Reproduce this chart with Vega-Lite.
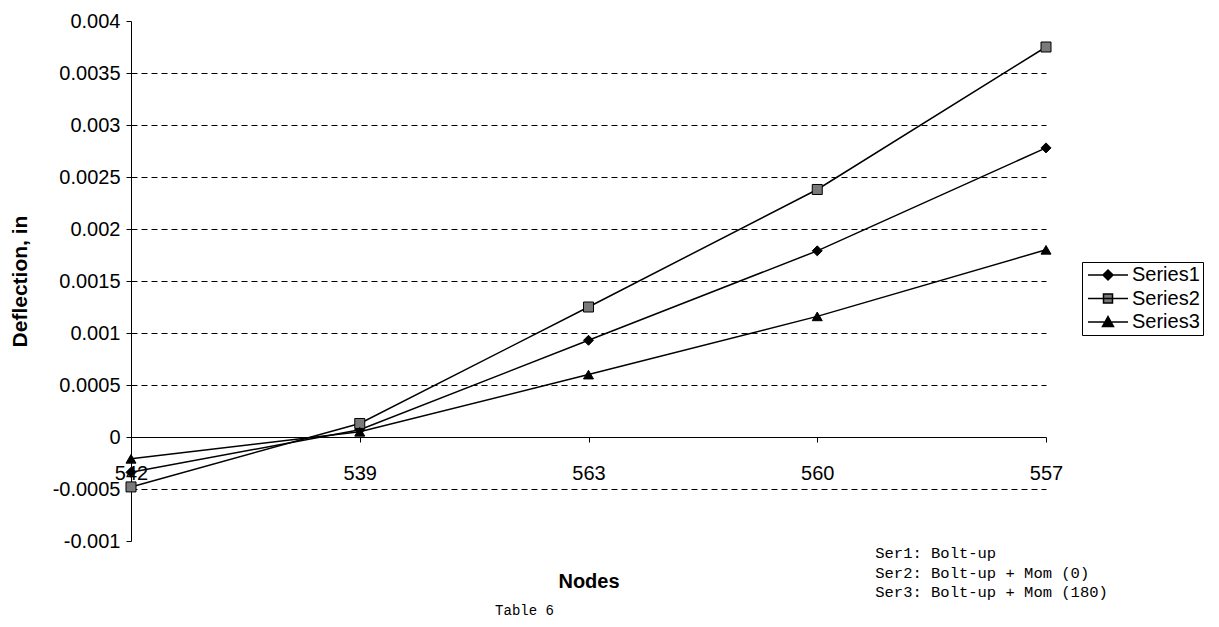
{
  "$schema": "https://vega.github.io/schema/vega-lite/v6.json",
  "width": 915,
  "height": 520,
  "autosize": {"type": "none"},
  "padding": {"left": 131, "top": 21, "right": 173, "bottom": 86},
  "background": "white",
  "config": {
    "view": {"stroke": null},
    "font": "Liberation Sans"
  },
  "title": {
    "text": "Table 6",
    "orient": "bottom",
    "anchor": "middle",
    "frame": "group",
    "dx": -64,
    "offset": 3,
    "font": "Liberation Mono",
    "fontSize": 14,
    "fontWeight": "normal",
    "color": "black"
  },
  "data": {
    "values": [
      {"node": "542", "series": "Series1", "value": -0.00034},
      {"node": "539", "series": "Series1", "value": 0.00007},
      {"node": "563", "series": "Series1", "value": 0.00093},
      {"node": "560", "series": "Series1", "value": 0.00179},
      {"node": "557", "series": "Series1", "value": 0.00278},
      {"node": "542", "series": "Series2", "value": -0.00048},
      {"node": "539", "series": "Series2", "value": 0.00013},
      {"node": "563", "series": "Series2", "value": 0.00125},
      {"node": "560", "series": "Series2", "value": 0.00238},
      {"node": "557", "series": "Series2", "value": 0.00375},
      {"node": "542", "series": "Series3", "value": -0.00021},
      {"node": "539", "series": "Series3", "value": 0.00005},
      {"node": "563", "series": "Series3", "value": 0.0006},
      {"node": "560", "series": "Series3", "value": 0.00116},
      {"node": "557", "series": "Series3", "value": 0.0018}
    ]
  },
  "layer": [
    {
      "mark": {"type": "line", "color": "black", "strokeWidth": 1.5},
      "encoding": {
        "x": {
          "field": "node",
          "type": "ordinal",
          "sort": ["542", "539", "563", "560", "557"],
          "scale": {"type": "point", "padding": 0},
          "axis": {
            "title": "Nodes",
            "offset": -104,
            "labelAngle": 0,
            "labelFontSize": 20,
            "labelColor": "black",
            "labelPadding": 21,
            "tickSize": 5,
            "tickColor": "black",
            "domainColor": "black",
            "domainWidth": 1,
            "grid": false,
            "titleFontSize": 20,
            "titleFontWeight": "bold",
            "titleColor": "black",
            "titlePadding": 88
          }
        },
        "y": {
          "field": "value",
          "type": "quantitative",
          "scale": {"domain": [-0.001, 0.004], "nice": false, "zero": false},
          "axis": {
            "title": "Deflection, in",
            "values": [-0.001, -0.0005, 0, 0.0005, 0.001, 0.0015, 0.002, 0.0025, 0.003, 0.0035, 0.004],
            "labelExpr": "replace(format(datum.value, '~g'), '−', '-')",
            "labelFontSize": 20,
            "labelColor": "black",
            "labelPadding": 6,
            "tickSize": 5,
            "tickColor": "black",
            "domainColor": "black",
            "grid": true,
            "gridColor": "black",
            "gridDash": [6, 4],
            "gridWidth": 1,
            "gridOpacity": {"condition": {"test": "datum.value === 0 || datum.value === 0.004 || datum.value === -0.001", "value": 0}, "value": 1},
            "titleFontSize": 21,
            "titleFontWeight": "bold",
            "titleColor": "black",
            "titlePadding": 22
          }
        },
        "detail": {"field": "series"}
      }
    },
    {
      "mark": {"type": "point", "filled": true, "opacity": 1, "size": 100, "stroke": "black", "strokeWidth": 1},
      "encoding": {
        "x": {"field": "node", "type": "ordinal", "sort": ["542", "539", "563", "560", "557"]},
        "y": {"field": "value", "type": "quantitative"},
        "shape": {
          "field": "series",
          "type": "nominal",
          "scale": {"domain": ["Series1", "Series2", "Series3"], "range": ["diamond", "square", "triangle-up"]},
          "legend": null
        },
        "fill": {
          "field": "series",
          "type": "nominal",
          "scale": {"domain": ["Series1", "Series2", "Series3"], "range": ["black", "#7a7a7a", "black"]},
          "legend": null
        }
      }
    },
    {
      "transform": [{"filter": "false"}],
      "mark": {"type": "point", "filled": true, "opacity": 1, "size": 100, "strokeWidth": 1.5},
      "encoding": {
        "x": {"field": "node", "type": "ordinal", "sort": ["542", "539", "563", "560", "557"]},
        "y": {"field": "value", "type": "quantitative"},
        "shape": {
          "field": "series",
          "type": "nominal",
          "scale": {
            "domain": ["Series1", "Series2", "Series3"],
            "range": [
              "M-1.4,0H6.6M2.6,-1L3.6,0L2.6,1L1.6,0Z",
              "M-1.4,0H6.6M1.7,-0.9H3.5V0.9H1.7Z",
              "M-1.4,0H6.6M2.6,-1.1L3.7,0.9H1.5Z"
            ]
          },
          "legend": {
            "title": null,
            "orient": "none",
            "legendX": 951,
            "legendY": 241,
            "padding": 3,
            "rowPadding": 3.5,
            "labelOffset": 27,
            "labelFontSize": 20,
            "labelColor": "black",
            "symbolSize": 100,
            "symbolStrokeWidth": 1.5,
            "symbolOpacity": 1,
            "strokeColor": "black",
            "fillColor": "white"
          }
        },
        "fill": {
          "field": "series",
          "type": "nominal",
          "scale": {"domain": ["Series1", "Series2", "Series3"], "range": ["black", "#7a7a7a", "black"]}
        },
        "stroke": {
          "field": "series",
          "type": "nominal",
          "scale": {"domain": ["Series1", "Series2", "Series3"], "range": ["black", "black", "black"]}
        }
      }
    },
    {
      "data": {"values": [{"note": ["Ser1: Bolt-up", "Ser2: Bolt-up + Mom (0)", "Ser3: Bolt-up + Mom (180)"]}]},
      "mark": {
        "type": "text",
        "font": "Liberation Mono",
        "fontSize": 15.5,
        "lineHeight": 19.5,
        "align": "left",
        "baseline": "top",
        "dx": 58,
        "color": "black"
      },
      "encoding": {
        "x": {"datum": "560"},
        "y": {"datum": -0.00105},
        "text": {"field": "note"}
      }
    }
  ],
  "resolve": {"scale": {"shape": "independent", "fill": "independent", "stroke": "independent"}}
}
